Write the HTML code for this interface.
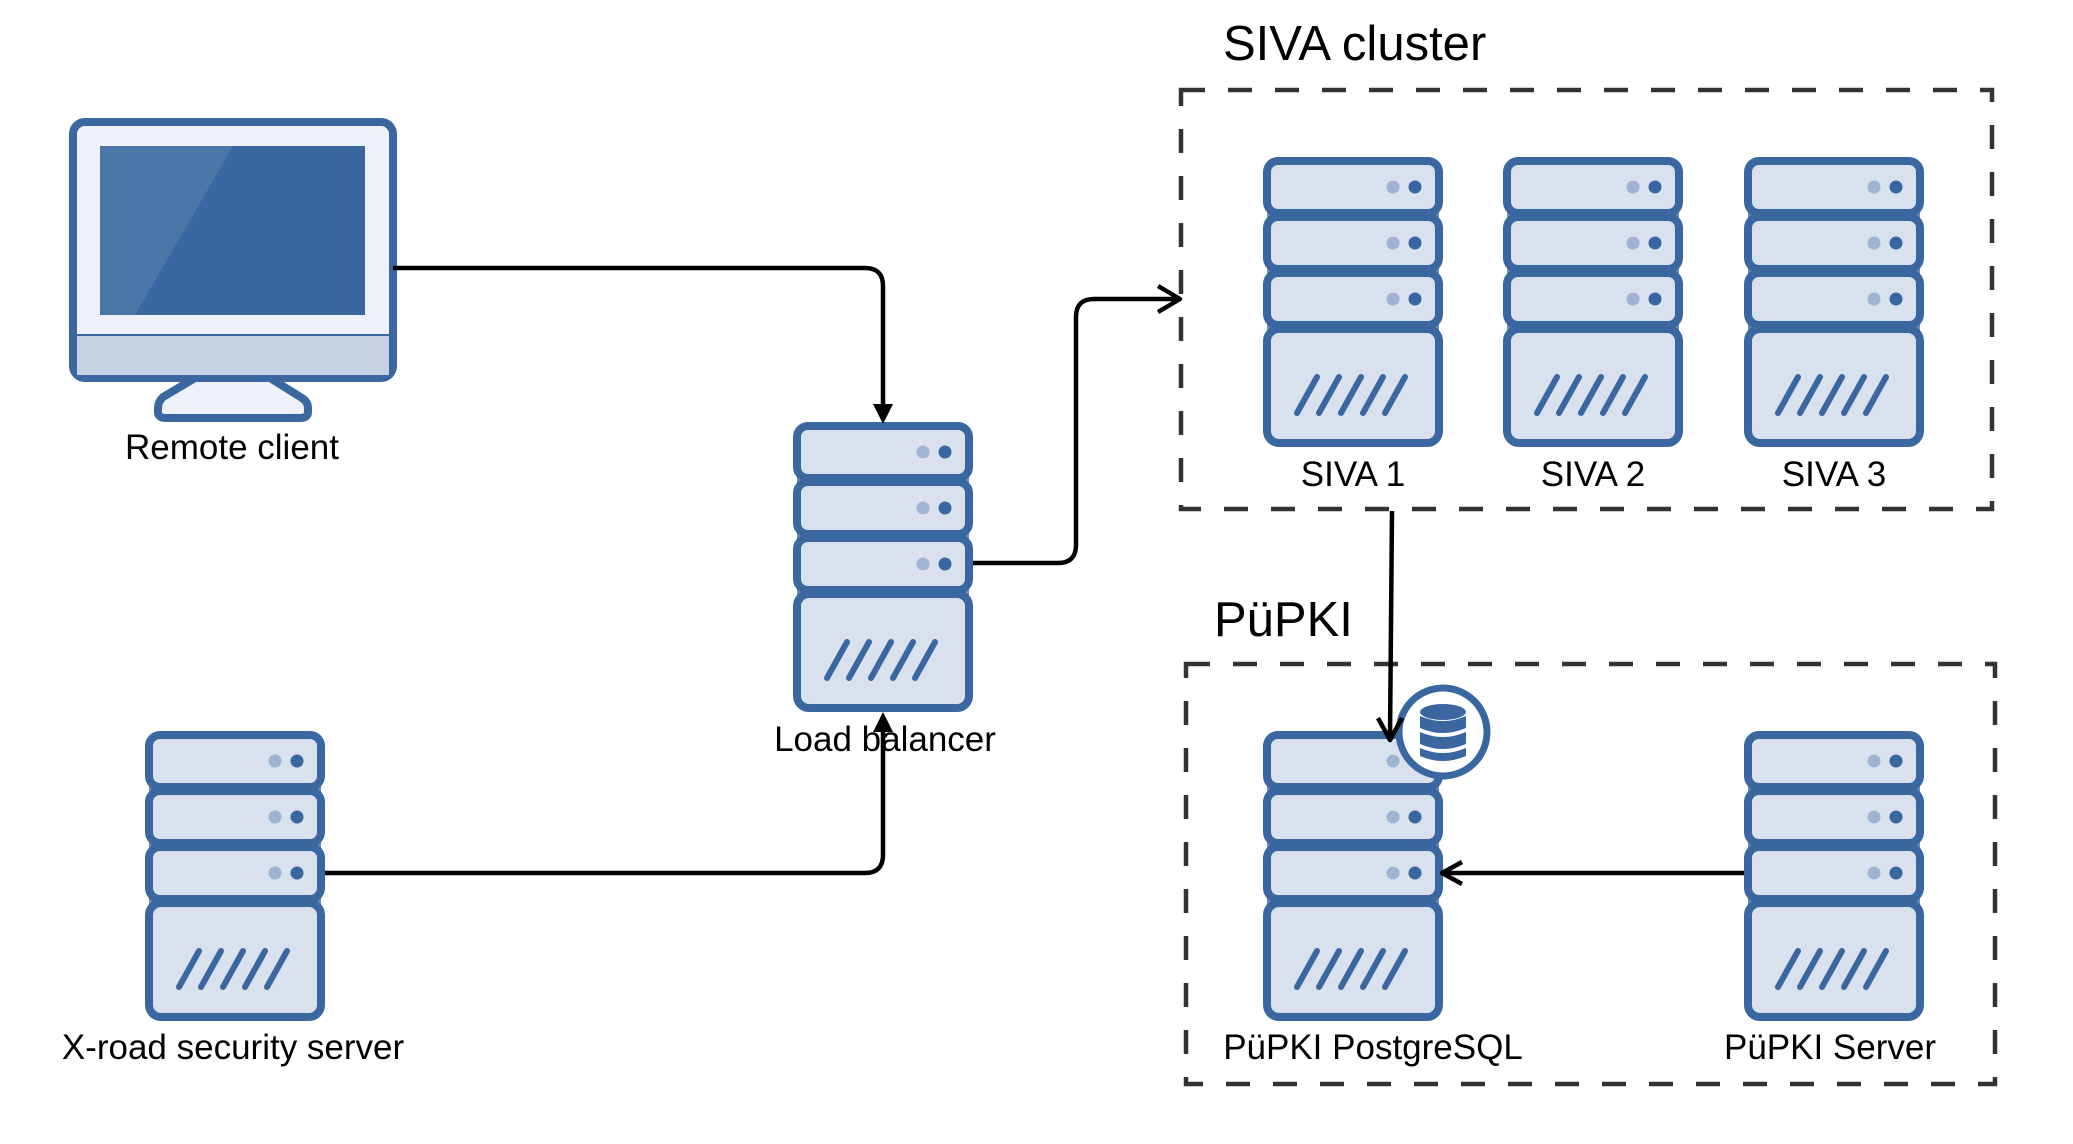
<!DOCTYPE html>
<html><head><meta charset="utf-8"><style>
html,body{margin:0;padding:0;background:#fff;}
svg{display:block;font-family:"Liberation Sans",sans-serif;}
</style></head><body>
<svg width="2073" height="1144" viewBox="0 0 2073 1144" xmlns="http://www.w3.org/2000/svg">
<defs>
<g id="srv">
  <rect x="4" y="4" width="172" height="282" rx="12" fill="#6a8cba"/>
  <rect x="4" y="4" width="172" height="52" rx="11" fill="#d9e1ee" stroke="#3a67a0" stroke-width="8"/>
  <rect x="4" y="60" width="172" height="52" rx="11" fill="#d9e1ee" stroke="#3a67a0" stroke-width="8"/>
  <rect x="4" y="116" width="172" height="52" rx="11" fill="#d9e1ee" stroke="#3a67a0" stroke-width="8"/>
  <rect x="4" y="172" width="172" height="114" rx="12" fill="#d9e1ee" stroke="#3a67a0" stroke-width="8"/>
  <circle cx="130" cy="30" r="6.5" fill="#9fb4d2"/><circle cx="152" cy="30" r="6.5" fill="#3a67a0"/>
  <circle cx="130" cy="86" r="6.5" fill="#9fb4d2"/><circle cx="152" cy="86" r="6.5" fill="#3a67a0"/>
  <circle cx="130" cy="142" r="6.5" fill="#9fb4d2"/><circle cx="152" cy="142" r="6.5" fill="#3a67a0"/>
  <g stroke="#3a67a0" stroke-width="6" stroke-linecap="round">
    <line x1="34" y1="256" x2="54" y2="220"/>
    <line x1="56" y1="256" x2="76" y2="220"/>
    <line x1="78" y1="256" x2="98" y2="220"/>
    <line x1="100" y1="256" x2="120" y2="220"/>
    <line x1="122" y1="256" x2="142" y2="220"/>
  </g>
</g>
</defs>

<!-- dashed boxes -->
<rect x="1181" y="90" width="811" height="419" fill="none" stroke="#333" stroke-width="4.5" stroke-dasharray="24 23"/>
<rect x="1186" y="664" width="809" height="420" fill="none" stroke="#333" stroke-width="4.5" stroke-dasharray="24 23"/>
<text x="1223" y="60" font-size="49">SIVA cluster</text>
<text x="1214" y="636" font-size="49">PüPKI</text>

<!-- monitor -->
<path d="M195 378 L163 397 Q158 402 158 408 L158 412 Q158 418 166 418 L300 418 Q308 418 308 412 L308 408 Q308 402 302 398 L270 378 Z" fill="#eef2f8" stroke="#3a67a0" stroke-width="8"/>
<rect x="73" y="122" width="320" height="256" rx="12" fill="#eef2f8" stroke="#3a67a0" stroke-width="8"/>
<rect x="77" y="335" width="312" height="40" fill="#c5d2e3"/>
<line x1="77" y1="335" x2="389" y2="335" stroke="#3a67a0" stroke-width="2"/>
<rect x="100" y="146" width="265" height="169" fill="#3a67a0"/>
<polygon points="100,146 233,146 135,315 100,315" fill="#4d76a8"/>
<text x="232" y="459" font-size="35" text-anchor="middle">Remote client</text>

<!-- servers -->
<use href="#srv" x="793" y="422"/>
<text x="885" y="751" font-size="35" text-anchor="middle">Load balancer</text>
<use href="#srv" x="145" y="731"/>
<text x="233" y="1059" font-size="35" text-anchor="middle">X-road security server</text>
<use href="#srv" x="1263" y="157"/>
<use href="#srv" x="1503" y="157"/>
<use href="#srv" x="1744" y="157"/>
<text x="1353" y="486" font-size="35" text-anchor="middle">SIVA 1</text>
<text x="1593" y="486" font-size="35" text-anchor="middle">SIVA 2</text>
<text x="1834" y="486" font-size="35" text-anchor="middle">SIVA 3</text>
<use href="#srv" x="1263" y="731"/>
<use href="#srv" x="1744" y="731"/>
<text x="1373" y="1059" font-size="35" text-anchor="middle">PüPKI PostgreSQL</text>
<text x="1830" y="1059" font-size="35" text-anchor="middle">PüPKI Server</text>

<!-- db badge -->
<circle cx="1443" cy="732" r="44" fill="#fff" stroke="#3a67a0" stroke-width="7"/>
<g fill="#3a67a0">
  <ellipse cx="1443" cy="712" rx="23" ry="8"/>
  <path d="M1420 716 Q1443 726 1466 716 L1466 728 Q1443 738 1420 728 Z"/>
  <path d="M1420 732 Q1443 742 1466 732 L1466 744 Q1443 754 1420 744 Z"/>
  <path d="M1420 748 Q1443 758 1466 748 L1466 756 Q1443 766 1420 756 Z"/>
</g>

<!-- connectors -->
<g fill="none" stroke="#000" stroke-width="4.5" stroke-linejoin="round">
  <path d="M393 268 L865 268 Q883 268 883 286 L883 412"/>
  <path d="M325 873 L865 873 Q883 873 883 855 L883 722"/>
  <path d="M973 563 L1058 563 Q1076 563 1076 545 L1076 317 Q1076 299 1094 299 L1178 299"/>
  <path d="M1158 286 L1180 299 L1158 312"/>
  <path d="M1392 511 L1390 738"/>
  <path d="M1378 718 L1390 740 L1402 718"/>
  <path d="M1744 873 L1444 873"/>
  <path d="M1462 862 L1442 873 L1462 884"/>
</g>
<polygon points="873,404 893,404 883,424" fill="#000"/>
<polygon points="873,732 893,732 883,712" fill="#000"/>
</svg>
</body></html>
